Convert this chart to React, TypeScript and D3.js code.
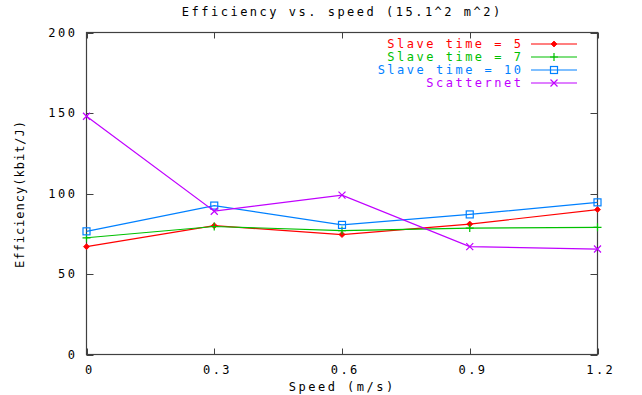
import React from "react";
import * as d3 from "d3";

const xValues = [0, 0.3, 0.6, 0.9, 1.2];
const slave5 = [67, 80, 74.5, 81, 90];
const slave7 = [72.5, 79.5, 77, 78.5, 79];
const slave10 = [76.5, 92.5, 80.5, 87, 94.5];
const scatternet = [148, 89, 99, 67, 65.5];
const seriesNames = ["Slave time = 5", "Slave time = 7", "Slave time = 10", "Scatternet"];
const xTicks = [0, 0.3, 0.6, 0.9, 1.2];
const xTickLabels = ["0", "0.3", "0.6", "0.9", "1.2"];
const yTicks = [0, 50, 100, 150, 200];
const titleText = "Efficiency vs. speed (15.1^2 m^2)";
const xLabel = "Speed (m/s)";
const yLabel = "Efficiency(kbit/J)";

const W = 642, H = 395;
const L = 86.5, R = 597.5, T = 32.5, B = 354.5;
const colors = ["#ff0000", "#00c000", "#0080ff", "#c000ff"];
const markers = ["diamond", "plus", "box", "cross"];
const FONT = "'DejaVu Sans Mono', monospace";
const LS = 2.5;

function Marker({ type, x, y, color }: { type: string; x: number; y: number; color: string }) {
  if (type === "diamond") {
    return <path d={`M${x},${y - 3}L${x + 3},${y}L${x},${y + 3}L${x - 3},${y}Z`} fill={color} stroke={color} strokeWidth={0.8} />;
  }
  if (type === "plus") {
    return <path d={`M${x - 4},${y}H${x + 4}M${x},${y - 4}V${y + 4}`} stroke={color} strokeWidth={1.2} fill="none" />;
  }
  if (type === "box") {
    return <rect x={x - 3.5} y={y - 3.5} width={7} height={7} fill="none" stroke={color} strokeWidth={1.2} />;
  }
  return <path d={`M${x - 3.5},${y - 3.5}L${x + 3.5},${y + 3.5}M${x - 3.5},${y + 3.5}L${x + 3.5},${y - 3.5}`} stroke={color} strokeWidth={1.2} fill="none" />;
}

export default function App() {
  const x = d3.scaleLinear().domain([0, 1.2]).range([L, R]);
  const y = d3.scaleLinear().domain([0, 200]).range([B, T]);
  const data = [slave5, slave7, slave10, scatternet];
  const line = d3.line<number>().x((_, i) => x(xValues[i])).y((d) => y(d));
  const legendY = [44, 57, 70, 83];
  return (
    <svg width={W} height={H} style={{ position: "absolute", left: 0, top: 0, background: "#fff" }} fontFamily={FONT} fontSize={12}>
      <rect x={0} y={0} width={W} height={H} fill="#fff" />
      <text x={341 + LS / 2} y={16} textAnchor="middle" letterSpacing={LS} fill="#000">{titleText}</text>
      <rect x={L} y={T} width={R - L} height={B - T} fill="none" stroke="#404040" strokeWidth={1.2} />
      {xTicks.map((t, i) => (
        <g key={"xt" + i}>
          <line x1={Math.round(x(t)) + 0.5} x2={Math.round(x(t)) + 0.5} y1={B} y2={B - 6} stroke="#404040" />
          <line x1={Math.round(x(t)) + 0.5} x2={Math.round(x(t)) + 0.5} y1={T} y2={T + 6} stroke="#404040" />
          <text x={x(t) + 2 + LS / 2} y={374} textAnchor="middle" letterSpacing={LS} fill="#000">{xTickLabels[i]}</text>
        </g>
      ))}
      {yTicks.map((t, i) => (
        <g key={"yt" + i}>
          <line x1={L} x2={L + 7} y1={Math.round(y(t)) + 0.5} y2={Math.round(y(t)) + 0.5} stroke="#404040" />
          <line x1={R} x2={R - 7} y1={Math.round(y(t)) + 0.5} y2={Math.round(y(t)) + 0.5} stroke="#404040" />
          <text x={75 + LS} y={y(t) + 4} textAnchor="end" letterSpacing={LS} fill="#000">{String(t)}</text>
        </g>
      ))}
      <text x={341 + LS / 2} y={391} textAnchor="middle" letterSpacing={LS} fill="#000">{xLabel}</text>
      <text transform={`translate(24,${194}) rotate(-90)`} textAnchor="middle" letterSpacing={1} fill="#000">{yLabel}</text>
      {data.map((s, k) => (
        <g key={"s" + k}>
          <path d={line(s) || ""} fill="none" stroke={colors[k]} strokeWidth={1.2} />
          {s.map((v, i) => (
            <Marker key={i} type={markers[k]} x={x(xValues[i])} y={y(v)} color={colors[k]} />
          ))}
        </g>
      ))}
      {seriesNames.map((n, k) => (
        <g key={"lg" + k}>
          <text x={521 + LS} y={legendY[k] + 4} textAnchor="end" letterSpacing={LS} fill={colors[k]}>{n}</text>
          <line x1={531} x2={577} y1={legendY[k]} y2={legendY[k]} stroke={colors[k]} strokeWidth={1.2} />
          <Marker type={markers[k]} x={554} y={legendY[k]} color={colors[k]} />
        </g>
      ))}
    </svg>
  );
}
